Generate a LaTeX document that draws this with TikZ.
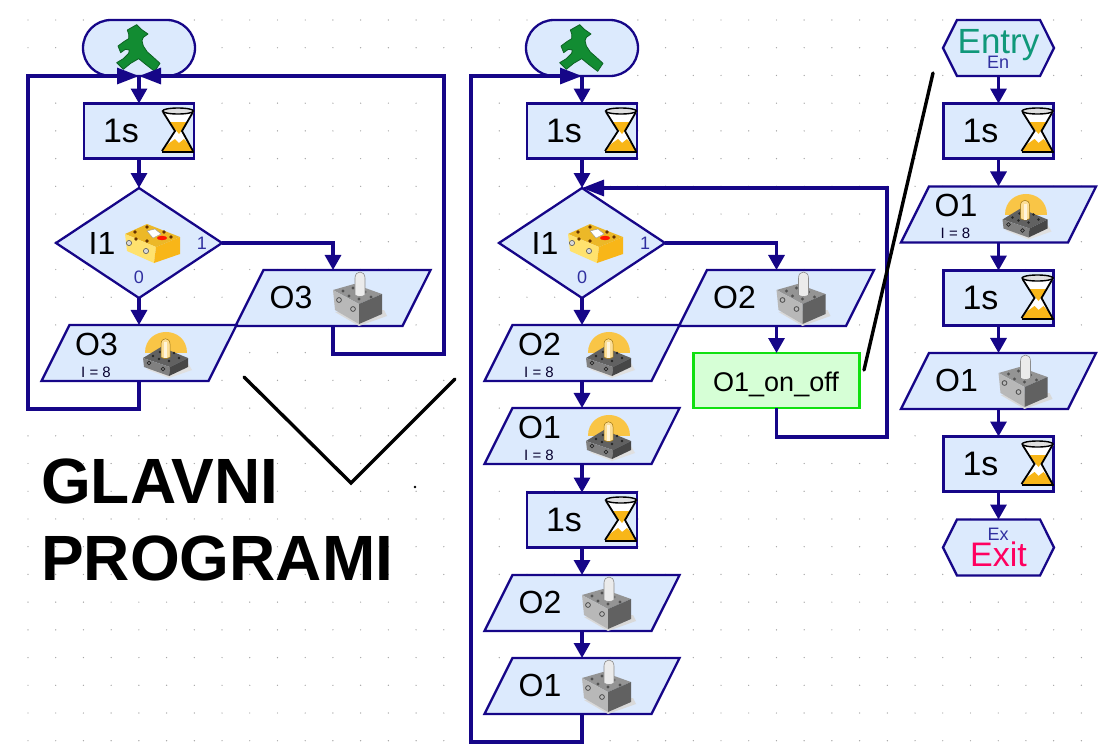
\documentclass[tikz,border=0pt]{standalone}
\usepackage{fontspec}
\setmainfont{Liberation Sans}
\usepackage{tikz}
\usetikzlibrary{arrows.meta}
\usetikzlibrary{positioning,shapes.geometric,shapes.misc,shapes.symbols}
\definecolor{navy}{RGB}{22,6,136}
\definecolor{boxfill}{RGB}{220,234,253}
\definecolor{griddot}{RGB}{165,165,165}
\definecolor{sand}{RGB}{248,182,24}
\definecolor{walker}{RGB}{18,140,50}
\definecolor{subtext}{RGB}{48,48,160}
\definecolor{entrytext}{RGB}{16,152,122}
\definecolor{exittext}{RGB}{255,0,96}
\definecolor{senstop}{RGB}{236,184,40}
\definecolor{sensleft}{RGB}{255,226,110}
\newcommand{\fs}[1]{\fontsize{#1}{#1}\selectfont}
\tikzset{
  x=1pt,y=-1pt,
  node box/.style={draw=navy,line width=2.3,fill=boxfill,inner sep=0,outer sep=0},
  node start/.style={node box,rounded rectangle,minimum width=112,minimum height=56},
  node timer/.style={node box,rectangle,minimum width=110,minimum height=55},
  node test/.style={node box,diamond,inner sep=1,aspect=1.5,minimum width=166,minimum height=110},
  node para/.style={node box,trapezium,trapezium left angle=63.4,trapezium right angle=116.6,
    text width=139,text height=56,text depth=0},
  node hex/.style={node box,signal,signal to=east and west,signal pointer angle=127,
    inner sep=1,minimum width=111,minimum height=56},
  node sub/.style={node box,rectangle,draw={rgb,255:red,16;green,224;blue,16},
    fill={rgb,255:red,214;green,255;blue,214},minimum width=166,minimum height=55},
  big text/.style={inner sep=0,font=\fs{32}},
  timer text/.style={inner sep=0,font=\fs{34}},
  small text/.style={inner sep=0,font=\fs{18},text=subtext},
  note text/.style={inner sep=0,font=\fs{15},text=black!65!navy},
  title text/.style={inner sep=0,anchor=base west,font=\fs{64}\bfseries},
  connect/.style={line width=3.2,navy},
  connect arrow/.style={connect,-{Triangle[length=15,width=16]}},
  connect long/.style={connect,-{Triangle[length=22,width=16]}},
  ink/.style={line width=3.4,black,line cap=round},
  walker/.pic={
    \fill[walker,draw=walker!70!black,line width=.8,line join=round,shift={(-29,-28)},scale=1/3]
      (52,30)--(80,14)--(94,28)--(114,42)--(100,52)--(96,62)--(100,78)--(112,96)--(128,110)--(150,130)
      --(134,154)--(108,134)--(86,116)--(62,130)--(40,148)--(20,128)--(40,116)--(56,100)
      --(58,90)--(46,88)--(32,98)--(24,78)--(40,66)--(56,56)--(56,42)--cycle;
  },
  hourglass/.pic={
    \fill[white] (-17,-19)--(-4,0)--(-17,20)--(14,20)--(3,0)--(15,-19)--cycle;
    \fill[sand] (-10,-9)--(9,-9)--(0,3)--cycle;
    \fill[sand] (-17,21)--(-11,13)--(-4,8)--(0,12)--(5,8)--(12,16)--(15,21)--cycle;
    \draw[black,line width=1.8] (-16,-19)--(-4,0)--(-17,20);
    \draw[black,line width=1.8] (14,-19)--(3,0)--(14,20);
    \draw[black,fill=black!12,line width=1.4] (-1,-20) ellipse (15.5 and 3);
    \draw[black,line width=2.4] (-17,21)--(15,21);
  },
  brick grey/.pic={
    \fill[black!15] (-22,10)--(2,24)--(30,14)--(27,8)--cycle;
    \fill[black!42] (-24,-12)--(-3,-18)--(25,-8)--(2,2)--cycle;
    \fill[black!28] (-24,-12)--(2,2)--(2,22)--(-22,8)--cycle;
    \fill[black!62] (2,2)--(25,-8)--(25,12)--(2,22)--cycle;
    \foreach \sx/\sy in {-14/-11,-4/-14,8/-10,-8/-6,2/-3,14/-5}
      \fill[black!68] (\sx,\sy) circle (1.7);
    \draw[black!70,line width=.8] (-18,-2) circle (2.4) (-4,7) circle (2.4);
    \fill[black!8,draw=black!45,line width=.6] (-2,-7)--(-2,-24) .. controls (-2,-32) and (8,-32) .. (8,-24)--(8,-7)
      .. controls (6,-5) and (0,-5) .. (-2,-7)--cycle;
  },
  brick lit/.pic={
    \fill[sand!80] (-21,-8) .. controls (-21,-36) and (21,-36) .. (21,-8)--cycle;
    \fill[black!12] (-20,8)--(3,17)--(26,9)--(22,2)--cycle;
    \fill[black!62] (-23,-3)--(-5,-14)--(22,-3)--(4,6)--cycle;
    \fill[black!50] (-23,-3)--(4,6)--(3,15)--(-22,6)--cycle;
    \fill[black!72] (4,6)--(22,-3)--(22,6)--(3,15)--cycle;
    \foreach \sx/\sy in {-13/-5,-6/-9,8/-8,-7/-2,3/0,13/-3}
      \fill[black!85] (\sx,\sy) circle (1.4);
    \draw[black!85,line width=.7] (-17,2) circle (1.9) (-3,8) circle (1.9);
    \fill[sand!45,draw=black!35!sand,line width=.5] (-5,-4)--(-5,-17) .. controls (-5,-24) and (4,-24) .. (4,-17)--(4,-4)
      .. controls (2,-2) and (-3,-2) .. (-5,-4)--cycle;
    \fill[white!85!sand] (-2,-3)--(-2,-19)--(1,-19)--(1,-3)--cycle;
  },
  sensor/.pic={
    \fill[senstop] (-14,-9)--(8,-19)--(41,-6)--(17,4)--cycle;
    \fill[sensleft] (-14,-9)--(17,4)--(15,20)--(-12,8)--cycle;
    \fill[sand] (17,4)--(41,-6)--(41,11)--(15,20)--cycle;
    \foreach \sx/\sy in {-4/-11,8/-16,-3/-4,25/-11,32/-6,8/-2}
      \fill[black!60!orange] (\sx,\sy) circle (1.9);
    \fill[white,draw=black!40,line width=.4] (8,-12)--(16,-14)--(22,-9)--(14,-5)--cycle;
    \fill[red!80!orange] (23,-5) ellipse (5 and 2.2);
    \draw[black!60,fill=black!15,line width=.7] (-10,0) circle (2.6) (7,8) circle (2.6);
  }
}

\begin{document}
\begin{tikzpicture}

  \useasboundingbox (0,0) rectangle (1107,747);

  % dots of the editor grid
  \foreach \i in {0,...,39}
    \foreach \j in {0,...,26}
      \fill[griddot] (28+27.72*\i,20+27.72*\j) circle (0.7);

  % start blocks
  \foreach \name/\x in {stA/139,stB/582} {
    \node[node start] (\name) at (\x,48) {};
    \pic at (\x,48) {walker};
  }

  % time delays
  \foreach \name/\x/\y in {tmA/139/131,tmB/582/131,tmB2/582/520,tmC/998.5/131,tmC2/998.5/298,tmC3/998.5/464} {
    \node[node timer] (\name) at (\x,\y) {};
    \node[timer text] (\name-txt) at (\x-18,\y) {1s};
    \pic at (\x+40,\y) {hourglass};
  }

  % inputs
  \foreach \name/\x in {dA/139,dB/582} {
    \node[node test] (\name) at (\x,243) {};
    \node[big text] (\name-txt) at (\x-37,243) {I1};
    \node[small text] (\name-one) at (\x+63,243) {1};
    \node[small text] (\name-zero) at (\x,277) {0};
    \pic at (\x,243) {sensor};
  }

  % outputs, off
  \foreach \name/\x/\y/\txt in {grA/333/298/O3,grB/776.5/298/O2,grB2/582/603/O2,grB3/582/686/O1,grC/998.5/381/O1} {
    \node[node para] (\name) at (\x,\y) {};
    \node[big text] (\name-txt) at (\x-42,\y-1) {\txt};
    \pic at (\x+24,\y+4) {brick grey};
  }

  % outputs, on
  \foreach \name/\x/\y/\txt in {litA/139/353/O3,litB/582/353/O2,litB2/582/436/O1,litC/998.5/214.5/O1} {
    \node[node para] (\name) at (\x,\y) {};
    \node[big text] (\name-txt) at (\x-42.5,\y-9) {\txt};
    \node[note text] (\name-note) at (\x-43,\y+19) {I = 8};
    \pic at (\x+27,\y+8) {brick lit};
  }

  \node[node sub] (onoff) at (776.5,380.5) {};
  \node[inner sep=0,anchor=base,font=\fs{27}] (onoff-txt) at (776,391.5) {O1\_on\_off};

  \node[node hex] (entry) at (998.5,48) {};
  \node[inner sep=0,anchor=base,font=\fs{35},text=entrytext] (entry-txt) at (998.5,53) {Entry};
  \node[small text] (entry-sub) at (998,62) {En};
  \node[node hex] (exit) at (998.5,547.5) {};
  \node[inner sep=0,anchor=base,font=\fs{34},text=exittext] (exit-txt) at (998.5,566.5) {Exit};
  \node[small text] (exit-sub) at (998,534) {Ex};

  \node[title text] (glavni) at (41,503) {GLAVNI};
  \node[title text] (programi) at (41,580) {PROGRAMI};

  % corners of the return lines
  \coordinate (retA1) at (28,409);
  \coordinate (retA2) at (28,76);
  \coordinate (retA3) at (444,354);
  \coordinate (retA4) at (444,76);
  \coordinate (retB1) at (471,742);
  \coordinate (retB2) at (471,76);
  \coordinate (retB3) at (887,437);
  \coordinate (retB4) at (887,188);

  % first program
  \draw[connect arrow] (stA.south) -- (tmA.north);
  \draw[connect arrow] (tmA.south) -- (dA.north);
  \draw[connect arrow] (dA.south) -- (litA.north);
  \draw[connect arrow] (dA.east) -| (grA.north);
  \draw[connect long] (litA.south) |- (retA1) -- (retA2) -- (stA.south);
  \draw[connect long] (grA.south) |- (retA3) -- (retA4) -- (stA.south);

  % second program
  \draw[connect arrow] (stB.south) -- (tmB.north);
  \draw[connect arrow] (tmB.south) -- (dB.north);
  \draw[connect arrow] (dB.south) -- (litB.north);
  \draw[connect arrow] (litB.south) -- (litB2.north);
  \draw[connect arrow] (litB2.south) -- (tmB2.north);
  \draw[connect arrow] (tmB2.south) -- (grB2.north);
  \draw[connect arrow] (grB2.south) -- (grB3.north);
  \draw[connect arrow] (dB.east) -| (grB.north);
  \draw[connect arrow] (grB.south) -- (onoff.north);
  \draw[connect long] (onoff.south) |- (retB3) -- (retB4) -- (dB.north);
  \draw[connect long] (grB3.south) |- (retB1) -- (retB2) -- (stB.south);

  % sub program
  \draw[connect arrow] (entry.south) -- (tmC.north);
  \draw[connect arrow] (tmC.south) -- (litC.north);
  \draw[connect arrow] (litC.south) -- (tmC2.north);
  \draw[connect arrow] (tmC2.south) -- (grC.north);
  \draw[connect arrow] (grC.south) -- (tmC3.north);
  \draw[connect arrow] (tmC3.south) -- (exit.north);

  % pen strokes over the screenshot
  \coordinate (vL) at (244,377);
  \coordinate (vM) at (351,483);
  \coordinate (vR) at (455,379);
  \coordinate (slashT) at (933,73);
  \coordinate (slashB) at (864,370);
  \draw[ink] (vL) -- (vM) -- (vR);
  \draw[ink] (slashT) -- (slashB);
  \fill[black] (415,487) circle (1.3);

\end{tikzpicture}
\end{document}
